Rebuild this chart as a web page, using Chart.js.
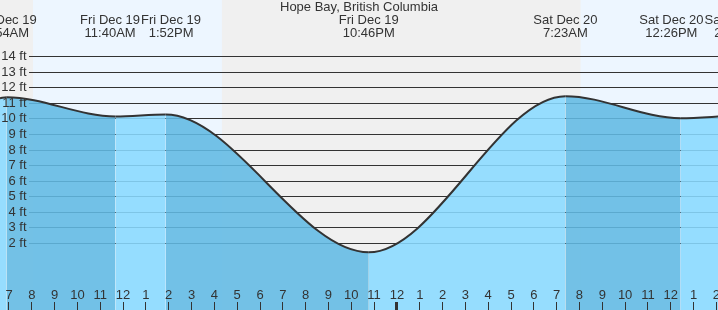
<!DOCTYPE html>
<html>
<head>
<meta charset="utf-8">
<script src="https://cdn.jsdelivr.net/npm/chart.js@4"></script>
<style>
  html, body { margin: 0; padding: 0; background: #f0f0f0; }
  canvas { display: block; }
</style>
</head>
<body>
<canvas id="tide" width="718" height="310"></canvas>
<script>
const place = 'Hope Bay, British Columbia';

// tide turns (highs and lows)
const tideDays = ['Fri Dec 19', 'Fri Dec 19', 'Fri Dec 19', 'Fri Dec 19', 'Sat Dec 20', 'Sat Dec 20', 'Sat Dec 20'];
const tideTimes = ['6:54AM', '11:40AM', '1:52PM', '10:46PM', '7:23AM', '12:26PM', '2:29PM'];
const tideFeet = [11.4, 10.15, 10.28, 1.42, 11.46, 10.04, 10.19];

// visible window, hours after Fri 00:00, and the height at the left edge
const viewStart = 6.606;
const viewEnd = 38.07;
const startFeet = 11.33;

// daylight, hours after Fri 00:00
const sunUp = [8.05, 32.05];
const sunDown = [16.33, 40.33];

const hourTicks = [7, 8, 9, 10, 11, 12, 13, 14, 15, 16, 17, 18, 19, 20, 21, 22, 23, 24,
  25, 26, 27, 28, 29, 30, 31, 32, 33, 34, 35, 36, 37, 38];
const ftTicks = [2, 3, 4, 5, 6, 7, 8, 9, 10, 11, 12, 13, 14];
const ftMin = -2.289;
const ftMax = 17.646;

const font = '"Liberation Sans", Arial, sans-serif';
const textColor = '#333';
const nightColor = '#f0f0f0';
const dayColor = '#edf6ff';
const floodColor = 'rgba(137, 217, 255, 0.88)';
const ebbColor = 'rgba(97, 186, 228, 0.88)';
const gridLeft = 29;

function toHours(day, time) {
  const m = time.match(/(\d+):(\d+)(AM|PM)/);
  const h = (+m[1]) % 12 + (m[3] === 'PM' ? 12 : 0) + (+m[2]) / 60;
  return (day.startsWith('Sat') ? 24 : 0) + h;
}
const tideHours = tideTimes.map((t, i) => toHours(tideDays[i], t));

const points = [{x: viewStart, y: startFeet}]
  .concat(tideHours.map((h, i) => ({x: h, y: tideFeet[i]})));

const flatBox = s => {
  if (s.isHorizontal()) s.height = 0; else s.width = 0;
  s.paddingLeft = s.paddingRight = s.paddingTop = s.paddingBottom = 0;
};

const backdrop = {
  id: 'backdrop',
  beforeDraw(chart) {
    const {ctx, width, height} = chart;
    const x = chart.scales.x;
    ctx.save();
    ctx.fillStyle = nightColor;
    ctx.fillRect(0, 0, width, height);
    ctx.fillStyle = dayColor;
    sunUp.forEach((h, i) => {
      const x0 = x.getPixelForValue(h);
      const x1 = x.getPixelForValue(sunDown[i]);
      ctx.fillRect(x0, 0, x1 - x0, height);
    });
    ctx.restore();
    // grid lines start right of the ft labels
    ctx.save();
    ctx.beginPath();
    ctx.rect(gridLeft, 0, width - gridLeft, height);
    ctx.clip();
  },
  beforeDatasetsDraw(chart) {
    chart.ctx.restore();
  }
};

const tideLabels = {
  id: 'tideLabels',
  afterDraw(chart) {
    const ctx = chart.ctx;
    const x = chart.scales.x;
    ctx.save();
    ctx.font = '13px ' + font;
    ctx.fillStyle = textColor;
    ctx.textAlign = 'center';
    ctx.fillText(place, chart.width / 2, 11);
    const items = tideHours.map((h, i) => ({
      x: x.getPixelForValue(h),
      w: Math.max(ctx.measureText(tideDays[i]).width, ctx.measureText(tideTimes[i]).width)
    }));
    for (let i = 0; i < items.length - 1; i++) {
      const a = items[i], b = items[i + 1];
      const need = (a.w + b.w) / 2 + 1;
      const gap = b.x - a.x;
      if (gap < need) {
        a.x -= (need - gap) / 2;
        b.x += (need - gap) / 2;
      }
    }
    items.forEach((it, i) => {
      ctx.fillText(tideDays[i], it.x, 24);
      ctx.fillText(tideTimes[i], it.x, 36.5);
    });
    ctx.restore();
  }
};

new Chart(document.getElementById('tide'), {
  type: 'line',
  data: {
    datasets: [{
      data: points,
      borderColor: '#333',
      borderWidth: 2,
      pointRadius: 0,
      cubicInterpolationMode: 'monotone',
      capBezierPoints: false,
      fill: 'start',
      backgroundColor: floodColor,
      segment: {
        backgroundColor: c => c.p1.parsed.y < c.p0.parsed.y ? ebbColor : floodColor
      }
    }]
  },
  options: {
    responsive: false,
    animation: false,
    devicePixelRatio: 1,
    layout: { padding: 0 },
    plugins: { legend: { display: false }, tooltip: { enabled: false }, title: { display: false } },
    scales: {
      x: {
        type: 'linear',
        position: 'bottom',
        min: viewStart,
        max: viewEnd,
        bounds: 'data',
        afterFit: flatBox,
        afterBuildTicks: s => { s.ticks = hourTicks.map(v => ({value: v})); },
        border: { display: false },
        grid: {
          z: 1,
          drawOnChartArea: false,
          tickLength: -8,
          color: '#333',
          lineWidth: c => c.tick && c.tick.value % 24 === 0 ? 3 : 1
        },
        ticks: {
          z: 1,
          mirror: true,
          padding: 7,
          autoSkip: false,
          maxRotation: 0,
          color: textColor,
          font: { family: font, size: 13 },
          callback: v => ((v + 11) % 12) + 1
        }
      },
      y: {
        type: 'linear',
        position: 'left',
        min: ftMin,
        max: ftMax,
        bounds: 'data',
        afterFit: flatBox,
        afterBuildTicks: s => { s.ticks = ftTicks.map(v => ({value: v})); },
        border: { display: false },
        grid: { color: '#333', lineWidth: 1, drawTicks: false },
        ticks: { display: false }
      },
      yLabels: {
        type: 'linear',
        position: 'left',
        min: ftMin,
        max: ftMax,
        bounds: 'data',
        afterFit: flatBox,
        afterBuildTicks: s => { s.ticks = ftTicks.map(v => ({value: v})); },
        border: { display: false },
        grid: { display: false, drawTicks: false },
        ticks: {
          z: 1,
          mirror: true,
          crossAlign: 'far',
          padding: 1.2,
          color: textColor,
          font: { family: font, size: 13 },
          callback: v => v + ' ft'
        }
      }
    }
  },
  plugins: [backdrop, tideLabels]
});
</script>
</body>
</html>
